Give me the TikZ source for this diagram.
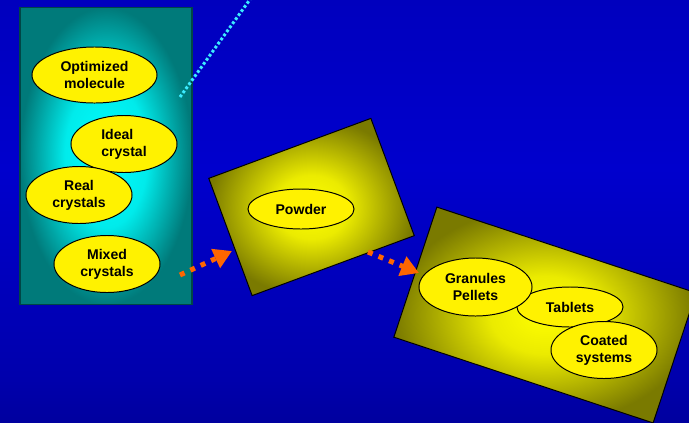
\documentclass[tikz,border=0pt]{standalone}
\usepackage{fontspec}
\setmainfont{Liberation Sans}
\usetikzlibrary{shapes.geometric,arrows.meta}
\definecolor{slidetop}{RGB}{0,0,125}
\definecolor{slideupper}{RGB}{0,0,190}
\definecolor{slidemid}{RGB}{0,0,205}
\definecolor{slidelower}{RGB}{0,0,172}
\definecolor{slidebot}{RGB}{0,0,92}
\definecolor{tealedge}{RGB}{0,122,122}
\definecolor{tealline}{RGB}{0,70,70}
\definecolor{oliveedge}{RGB}{122,122,0}
\definecolor{dotcyan}{RGB}{60,235,255}
\definecolor{arroworange}{RGB}{255,102,0}
\pgfdeclareverticalshading{slidesky}{100bp}{%
  color(0bp)=(slidebot); color(30bp)=(slidelower); color(55bp)=(slidemid);
  color(75bp)=(slideupper); color(100bp)=(slidetop)}
\pgfdeclareradialshading{yellowglow}{\pgfpoint{0bp}{0bp}}{%
  color(0bp)=(yellow); color(9bp)=(yellow!85!oliveedge);
  color(25bp)=(oliveedge); color(50bp)=(oliveedge)}
\pgfdeclareradialshading{cyanglow}{\pgfpoint{0bp}{0bp}}{%
  color(0bp)=(cyan); color(12bp)=(cyan!85!tealedge);
  color(25bp)=(tealedge); color(50bp)=(tealedge)}
\tikzset{
  bubble/.style={ellipse,draw=black,line width=0.7pt,fill=yellow,inner sep=0pt,
    minimum width=2.65cm,minimum height=1.425cm,align=center,
    font=\bfseries\fontsize{10}{11.9}\selectfont},
  stagebox/.style={rectangle,draw=black,line width=0.7pt,inner sep=0pt,
    shade,shading=yellowglow},
  flow/.style={arroworange,line width=0.125cm,dash pattern=on 0.125cm off 0.16cm,
    -{Triangle[length=0.45cm,width=0.5cm]}}
}
\begin{document}
\begin{tikzpicture}[x=0.025cm,y=-0.025cm]
  \useasboundingbox (0,0) rectangle (689,422);
  \clip (0,0) rectangle (689,422);
  \shade[shading=slidesky] (0,0) rectangle (689,422);

  % solid state box
  \node[rectangle,draw=tealline,line width=1.2pt,shade,shading=cyanglow,
    minimum width=4.3cm,minimum height=7.425cm] (solidbox) at (106,156) {};

  \node[bubble,minimum width=3.125cm,minimum height=1.4cm] (molecule) at (94.5,75)
    {Optimized\\molecule};
  \node[bubble,align=left] (ideal) at (124,144) {Ideal\\crystal};
  \node[bubble] (real) at (79,195) {Real\\crystals};
  \node[bubble] (mixed) at (107,264) {Mixed\\crystals};

  \coordinate (dotstart) at (180,97);
  \coordinate (dotend) at (251,-2);
  \draw[dotcyan,line width=0.075cm,dash pattern=on 0.07cm off 0.055cm]
    (dotstart) -- (dotend);

  % powder
  \node[stagebox,rotate=20.3,minimum width=4.32cm,minimum height=3.125cm]
    (powderbox) at (311.5,207) {};
  \node[bubble,minimum height=1cm] (powder) at (301,209) {Powder};

  % dosage forms
  \node[stagebox,rotate=-18.3,minimum width=6.825cm,minimum height=3.425cm]
    (dosebox) at (545,315) {};
  \node[bubble,minimum height=1cm] (tablets) at (570,307) {Tablets};
  \node[bubble,minimum width=2.825cm,minimum height=1.45cm] (granules) at (475.5,287)
    {Granules\\Pellets};
  \node[bubble] (coated) at (604,350) {Coated\\systems};

  \coordinate (flowAs) at (180,275);
  \coordinate (flowAe) at (232,251);
  \coordinate (flowBs) at (368,252);
  \coordinate (flowBe) at (419,273);
  \draw[flow] (flowAs) -- (flowAe);
  \draw[flow] (flowBs) -- (flowBe);
\end{tikzpicture}
\end{document}
